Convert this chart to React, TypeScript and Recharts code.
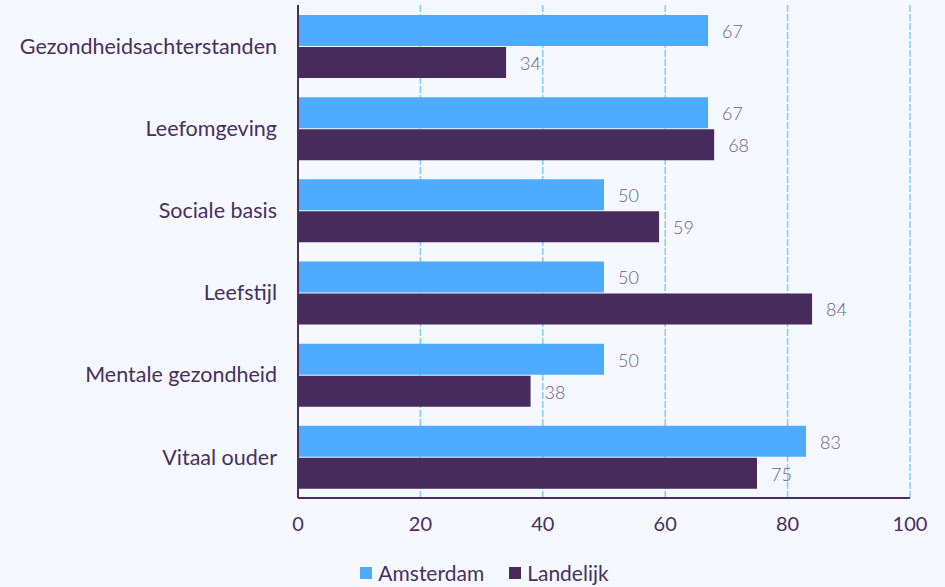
import React from 'react';
import { BarChart, Bar, XAxis, YAxis, CartesianGrid, Legend, LabelList } from 'recharts';

const categories = [
  'Gezondheidsachterstanden',
  'Leefomgeving',
  'Sociale basis',
  'Leefstijl',
  'Mentale gezondheid',
  'Vitaal ouder',
];
const amsterdam = [67, 67, 50, 50, 50, 83];
const landelijk = [34, 68, 59, 84, 38, 75];
const xTicks = [0, 20, 40, 60, 80, 100];
const seriesColors = { Amsterdam: '#4eabfd', Landelijk: '#472b5d' };

const data = categories.map((name, i) => ({ name, Amsterdam: amsterdam[i], Landelijk: landelijk[i] }));

const FONT = 'Lato, "Open Sans", sans-serif';
const INK = '#47305f';

const LegendContent = () => (
  <div style={{ display: 'flex', justifyContent: 'center', alignItems: 'center', gap: 25, paddingLeft: 59, fontSize: 21, color: INK, fontFamily: FONT, lineHeight: '24px' }}>
    {Object.entries(seriesColors).map(([name, color]) => (
      <div key={name} style={{ display: 'flex', alignItems: 'center', gap: 6 }}>
        <span style={{ width: 12, height: 12, background: color, display: 'inline-block' }} />
        <span>{name}</span>
      </div>
    ))}
  </div>
);

const App = () => {
  return (
    <div style={{ position: 'fixed', left: 0, top: 0, width: 945, height: 587, background: '#f5f8fe', fontFamily: FONT, overflow: 'hidden' }}>
      <BarChart
        width={945}
        height={587}
        data={data}
        layout="vertical"
        margin={{ top: 5, right: 35, left: 0, bottom: 0 }}
        barCategoryGap={10}
        barGap={1}
      >
        <CartesianGrid horizontal={false} vertical stroke="#80cdfd" strokeDasharray="7 2" strokeWidth={1.5} />
        <XAxis
          type="number"
          domain={[0, 100]}
          ticks={xTicks}
          height={60}
          tickSize={0}
          tickMargin={19}
          axisLine={{ stroke: INK, strokeWidth: 2 }}
          tickLine={false}
          tick={{ fill: INK, fontSize: 20, fontFamily: FONT }}
        />
        <YAxis
          type="category"
          dataKey="name"
          width={298}
          tickSize={0}
          tickMargin={21}
          axisLine={{ stroke: INK, strokeWidth: 2 }}
          tickLine={false}
          tick={{ fill: INK, fontSize: 21.5, fontFamily: FONT }}
        />
        <Legend verticalAlign="bottom" height={29} content={<LegendContent />} wrapperStyle={{ bottom: -3 }} />
        <Bar dataKey="Amsterdam" fill={seriesColors.Amsterdam} isAnimationActive={false}>
          <LabelList dataKey="Amsterdam" position="right" offset={14} dy={1} style={{ fill: '#6f6082', fontSize: 18, fontFamily: FONT, fontWeight: 300 }} />
        </Bar>
        <Bar dataKey="Landelijk" fill={seriesColors.Landelijk} isAnimationActive={false}>
          <LabelList dataKey="Landelijk" position="right" offset={14} dy={1} style={{ fill: '#6f6082', fontSize: 18, fontFamily: FONT, fontWeight: 300 }} />
        </Bar>
      </BarChart>
    </div>
  );
};

export default App;
